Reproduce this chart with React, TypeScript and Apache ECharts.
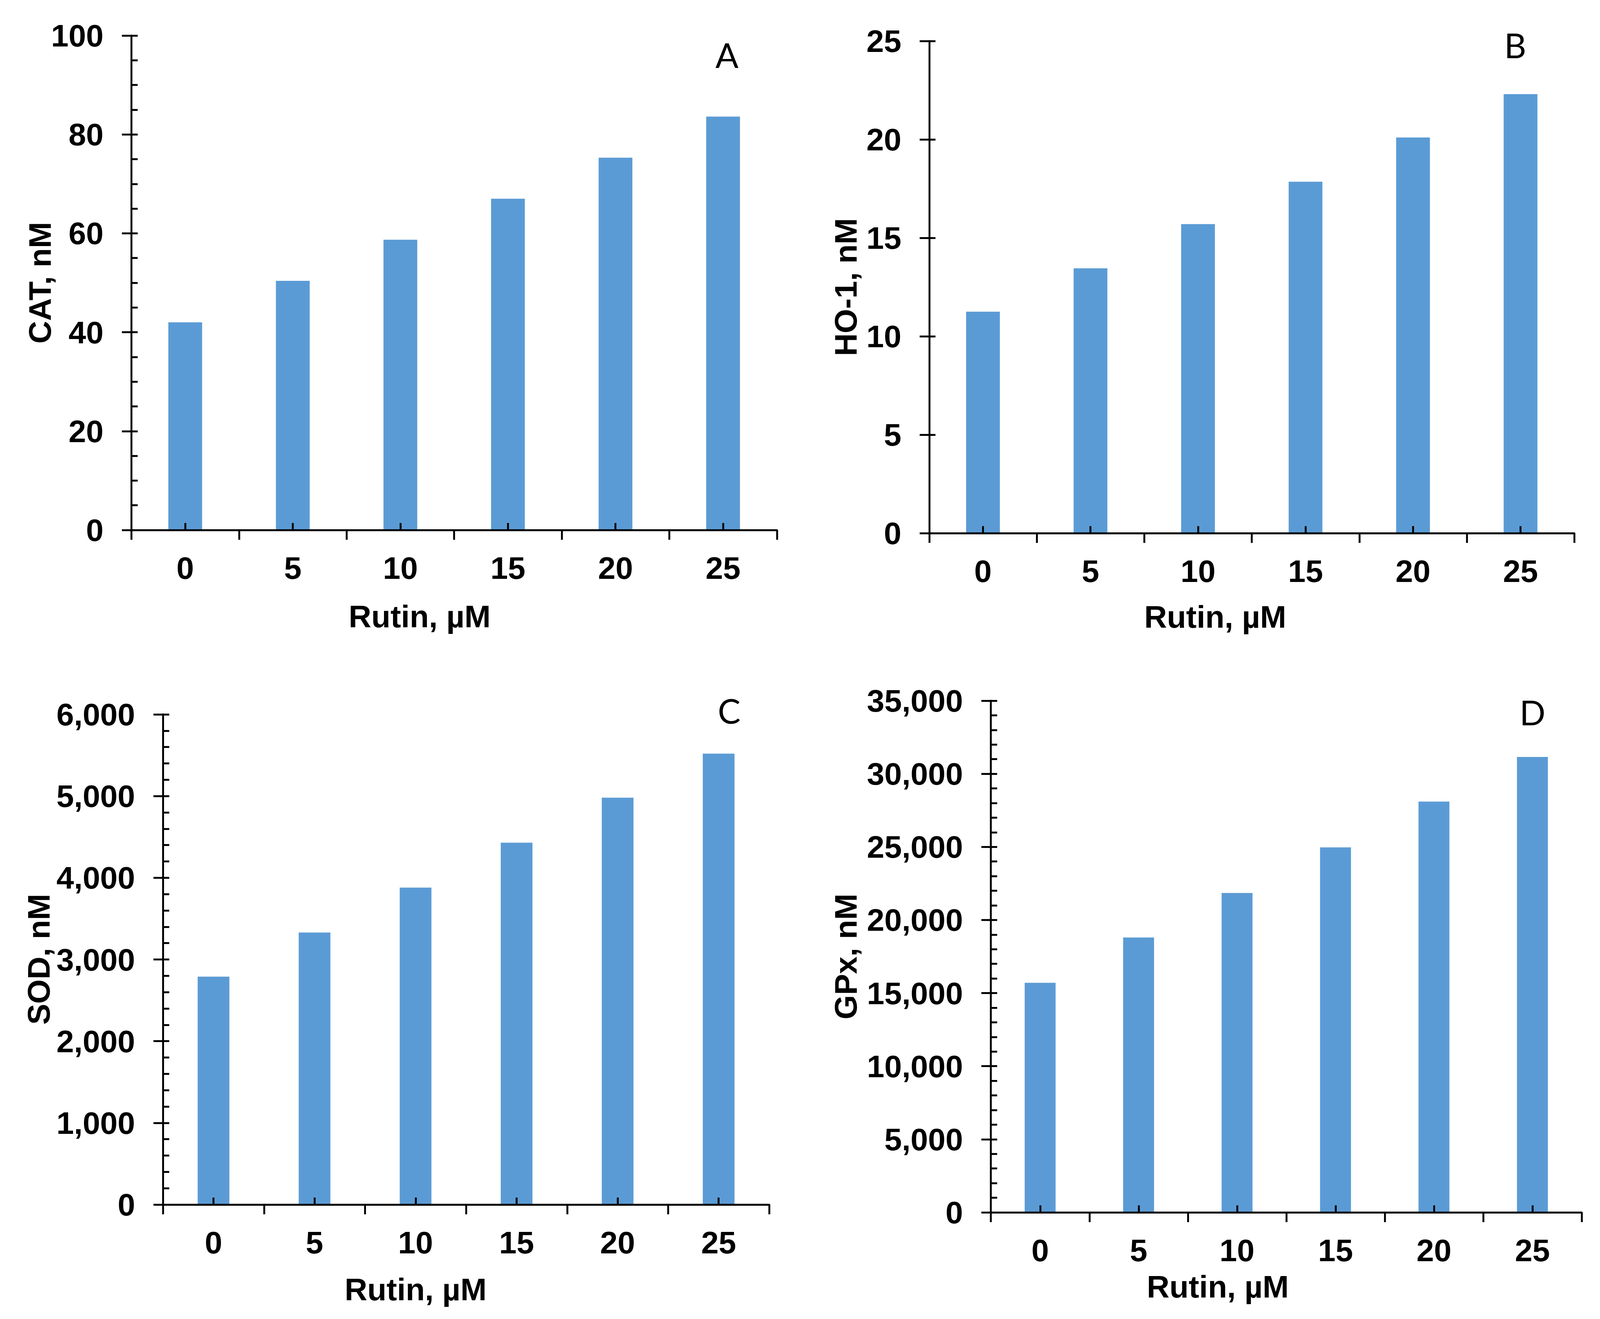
import React, { useEffect, useRef, useState } from "react";
import * as echarts from "echarts";

// ---- data ----
const categories = ["0", "5", "10", "15", "20", "25"];
const catValues = [42, 50.4, 58.7, 67, 75.3, 83.6];
const ho1Values = [11.25, 13.45, 15.7, 17.85, 20.1, 22.3];
const sodValues = [2790, 3330, 3880, 4430, 4980, 5520];
const gpxValues = [15700, 18800, 21850, 24970, 28100, 31150];

const yMaxes = [100, 25, 6000, 35000];
const yIntervals = [20, 5, 1000, 5000];
const yMinorSplits = [4, 0, 5, 5];
const yTitles = ["CAT, nM", "HO-1, nM", "SOD, nM", "GPx, nM"];
const xTitle = "Rutin, µM";
const panelLetters = ["A", "B", "C", "D"];

// ---- layout (design space 4358 x 3377) ----
const W = 4358;
const H = 3377;
const grids = [
  { left: 358, top: 91, width: 1758, height: 1266 },
  { left: 2531, top: 105, width: 1757, height: 1260 },
  { left: 444, top: 1829, width: 1651, height: 1255 },
  { left: 2699, top: 1794, width: 1609, height: 1310 },
];
const xTitlePos = [
  [1143, 1578],
  [3310, 1579],
  [1132, 3301],
  [3317, 3294],
];
const yTitlePos = [
  [109, 724],
  [2303, 735],
  [105, 2456],
  [2303, 2449],
];
const letterPos = [
  [1980, 140],
  [4127, 115],
  [1986, 1819],
  [4174, 1823],
];

const FONT = "'Liberation Sans', Arial, sans-serif";
const BAR_COLOR = "#5B9BD5";

function fmt(v: number) {
  return v.toLocaleString("en-US");
}

export default function App() {
  const ref = useRef<HTMLDivElement>(null);
  const [dims] = useState(() => {
    document.body.style.margin = "0";
    document.body.style.overflow = "hidden";
    const vw = window.innerWidth || W;
    const vh = window.innerHeight || H;
    return { vw, vh, sx: vw / W, sy: vh / H };
  });

  useEffect(() => {
    if (!ref.current) return;
    const { sx, sy } = dims;
    const s = Math.sqrt(sx * sy);
    const chart = echarts.init(ref.current, undefined, { renderer: "svg" });
    const seriesData = [catValues, ho1Values, sodValues, gpxValues];

    const LW = 5 * s;
    const lineStyle = { color: "#000", width: LW };
    const fs = 83 * s;
    const labelFont = {
      fontFamily: FONT,
      fontWeight: "bold" as const,
      fontSize: fs,
      color: "#000",
    };

    const xAxes: any[] = [];
    const yAxes: any[] = [];
    const series: any[] = [];
    const graphics: any[] = [];

    grids.forEach((g, i) => {
      xAxes.push({
        type: "category",
        gridIndex: i,
        data: categories,
        position: "bottom",
        boundaryGap: true,
        z: 4,
        axisLine: { show: true, lineStyle },
        axisTick: {
          show: true,
          alignWithLabel: false,
          inside: false,
          length: 25 * sy,
          lineStyle,
        },
        axisLabel: {
          ...labelFont,
          margin: 97 * sy,
          verticalAlign: "middle",
          interval: 0,
        },
        splitLine: { show: false },
      });
      xAxes.push({
        type: "category",
        gridIndex: i,
        data: categories,
        position: "bottom",
        boundaryGap: true,
        z: 4,
        axisLine: { show: false },
        axisTick: {
          show: true,
          alignWithLabel: true,
          inside: true,
          length: 18 * sy,
          interval: 0,
          lineStyle,
        },
        axisLabel: { show: false },
        splitLine: { show: false },
      });
      yAxes.push({
        type: "value",
        gridIndex: i,
        position: "left",
        min: 0,
        max: yMaxes[i],
        interval: yIntervals[i],
        z: 4,
        axisLine: { show: true, lineStyle },
        axisTick: { show: true, inside: false, length: 26 * sx, lineStyle },
        axisLabel: {
          ...labelFont,
          margin: 76 * sx,
          formatter: (v: number) => fmt(v),
        },
        splitLine: { show: false },
      });
      yAxes.push({
        type: "value",
        gridIndex: i,
        position: "left",
        min: 0,
        max: yMaxes[i],
        interval: yIntervals[i],
        z: 4,
        axisLine: { show: false },
        axisTick: { show: true, inside: true, length: 17 * sx, lineStyle },
        minorTick: {
          show: yMinorSplits[i] > 0,
          splitNumber: yMinorSplits[i] || 5,
          length: 17 * sx,
          lineStyle,
        },
        axisLabel: { show: false },
        splitLine: { show: false },
        minorSplitLine: { show: false },
      });
      series.push({
        type: "bar",
        xAxisIndex: 2 * i,
        yAxisIndex: 2 * i,
        data: seriesData[i],
        barWidth: "31.4%",
        itemStyle: { color: BAR_COLOR },
        z: 2,
      });

      graphics.push({
        type: "text",
        x: xTitlePos[i][0] * sx,
        y: xTitlePos[i][1] * sy,
        style: {
          text: xTitle,
          x: 0,
          y: 0,
          align: "center",
          verticalAlign: "middle",
          font: `bold ${fs}px ${FONT}`,
          fill: "#000",
        },
      });
      graphics.push({
        type: "text",
        x: yTitlePos[i][0] * sx,
        y: yTitlePos[i][1] * sy,
        rotation: Math.PI / 2,
        style: {
          text: yTitles[i],
          x: 0,
          y: 0,
          align: "center",
          verticalAlign: "middle",
          font: `bold ${fs}px ${FONT}`,
          fill: "#000",
        },
      });
      graphics.push({
        type: "text",
        x: letterPos[i][0] * sx,
        y: letterPos[i][1] * sy,
        style: {
          text: panelLetters[i],
          x: 0,
          y: 0,
          align: "center",
          verticalAlign: "middle",
          font: `normal ${90 * s}px Lato, 'Open Sans', sans-serif`,
          fill: "#000",
        },
      });
    });

    chart.setOption({
      animation: false,
      backgroundColor: "#fff",
      grid: grids.map((g) => ({
        left: g.left * sx,
        top: g.top * sy,
        width: g.width * sx,
        height: g.height * sy,
        containLabel: false,
      })),
      xAxis: xAxes,
      yAxis: yAxes,
      series,
      graphic: graphics,
    });

    return () => {
      chart.dispose();
    };
  }, [dims]);

  return (
    <div
      ref={ref}
      style={{ width: Math.floor(dims.vw), height: Math.floor(dims.vh) }}
    />
  );
}
